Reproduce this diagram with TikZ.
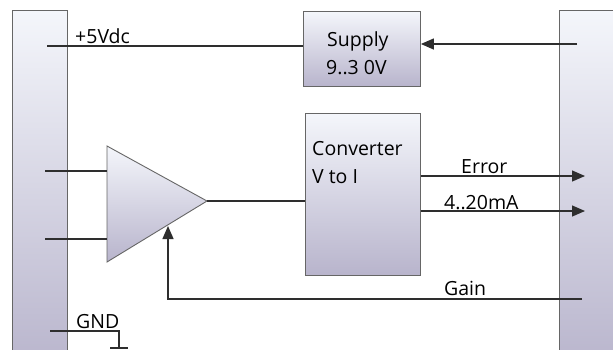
\documentclass[tikz,border=0pt]{standalone}
\usepackage{fontspec}
\setmainfont{Open Sans}
\usetikzlibrary{arrows.meta}
\definecolor{shtop}{HTML}{F4F6FB}
\definecolor{shbot}{HTML}{B8B4CC}
\definecolor{edge}{HTML}{666666}
\definecolor{wire}{HTML}{2E2E2E}
\tikzset{
  box/.style={draw=edge, line width=0.9pt, top color=shtop, bottom color=shbot, anchor=north west, inner sep=0pt},
  wireline/.style={draw=wire, line width=1.3pt},
  arr/.style={wireline, -{Triangle[length=13pt,width=11pt]}},
  lbl/.style={anchor=base west, inner sep=0pt, font=\fontsize{19.5}{22}\selectfont}
}
\begin{document}
\begin{tikzpicture}[x=1pt,y=-1pt]
\clip (0,0) rectangle (613,349);
\fill[white] (0,0) rectangle (613,349);
% side bars
\node[box, minimum width=55, minimum height=360] (lbar) at (12,10) {};
\node[box, minimum width=60, minimum height=360] (rbar) at (559,10) {};
% boxes
\node[box, minimum width=117, minimum height=75] (supply) at (303,11) {};
\node[box, minimum width=115, minimum height=162] (conv) at (305,113) {};
% amplifier
\coordinate (ampT) at (107,146);
\coordinate (ampB) at (107,262);
\coordinate (ampO) at (207,201);
\coordinate (ampG) at (168,226);
\shade[top color=shtop, bottom color=shbot, draw=edge, line width=0.9pt] (ampT) -- (ampO) -- (ampB) -- cycle;
% texts
\node[lbl] (t5v) at (75,43) {+5Vdc};
\node[lbl] (tsup1) at (327,46) {Supply};
\node[lbl] (tsup2) at (326,74) {9..3 0V};
\node[lbl] (tconv1) at (312,155) {Converter};
\node[lbl] (tconv2) at (312,183) {V to I};
\node[lbl] (terr) at (461,173) {Error};
\node[lbl] (tma) at (444,209) {4..20mA};
\node[lbl] (tgain) at (444,295) {Gain};
\node[lbl] (tgnd) at (76,328) {GND};
% coordinates for free ends
\coordinate (c5v) at (47,46);
\coordinate (rsup) at (577,44);
\coordinate (in1) at (45,171);
\coordinate (in2) at (45,239);
\coordinate (errEnd) at (585,176);
\coordinate (maEnd) at (585,211);
\coordinate (gainR) at (582,299);
\coordinate (gndL) at (50,331);
\coordinate (gndC) at (119,331);
\coordinate (gndB) at (119,348);
% wires
\draw[wireline] (c5v) -- (c5v -| supply.west);
\draw[arr] (rsup) -- (rsup -| supply.east);
\draw[wireline] (in1) -- (in1 -| ampT);
\draw[wireline] (in2) -- (in2 -| ampT);
\draw[wireline] (ampO) -- (ampO -| conv.west);
\draw[arr] (errEnd -| conv.east) -- (errEnd);
\draw[arr] (maEnd -| conv.east) -- (maEnd);
\draw[arr] (gainR) -- (gainR -| ampG) -- (ampG);
\draw[wireline] (gndL) -- (gndC) -- (gndB);
\draw[wireline] ([xshift=-9]gndB) -- ([xshift=9]gndB);
\end{tikzpicture}
\end{document}
